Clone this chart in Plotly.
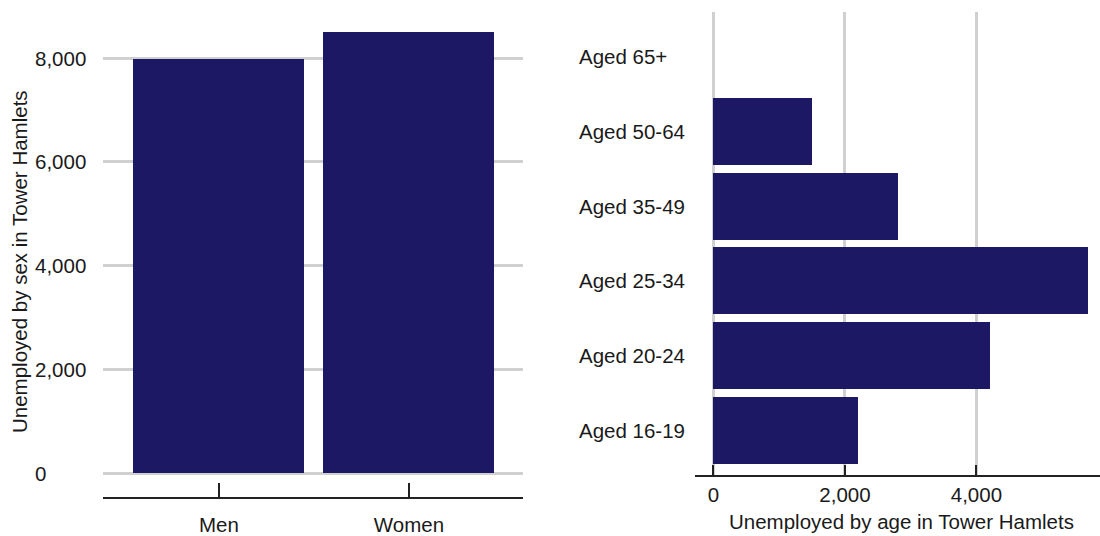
import plotly.graph_objects as go

# ---- data ----
sex_categories = ["Men", "Women"]
sex_values = [7990, 8500]
sex_ticks = [0, 2000, 4000, 6000, 8000]
sex_tick_labels = ["0", "2,000", "4,000", "6,000", "8,000"]

age_categories = ["Aged 16-19", "Aged 20-24", "Aged 25-34", "Aged 35-49", "Aged 50-64", "Aged 65+"]
age_values = [2200, 4200, 5700, 2800, 1500, 0]
age_ticks = [0, 2000, 4000]
age_tick_labels = ["0", "2,000", "4,000"]

sex_title = "Unemployed by sex in Tower Hamlets"
age_title = "Unemployed by age in Tower Hamlets"

# ---- style ----
W, H = 1100, 536
BAR = "#1c1863"
GRID = "#d0d0d0"
AXIS = "#222222"
TEXT = "#1a1a1a"
FONT = "Liberation Sans, Arial, sans-serif"
FS = 20.5

def px(x):
    return x / W

def py(y):
    return 1 - y / H

fig = go.Figure()
fig.add_trace(go.Bar(x=sex_categories, y=sex_values, width=0.9,
                     marker=dict(color=BAR, line=dict(width=0)),
                     xaxis="x", yaxis="y", showlegend=False))
fig.add_trace(go.Bar(x=age_values, y=age_categories, orientation="h", width=0.9,
                     marker=dict(color=BAR, line=dict(width=0)),
                     xaxis="x2", yaxis="y2", showlegend=False))

annotations = []
for v, lab in zip(sex_ticks, sex_tick_labels):
    annotations.append(dict(x=px(33), xref="paper", y=v, yref="y", text=lab,
                            xanchor="left", yanchor="middle", showarrow=False,
                            font=dict(family=FONT, size=FS, color=TEXT)))
for c in age_categories:
    annotations.append(dict(x=px(577), xref="paper", y=c, yref="y2", text=c,
                            xanchor="left", yanchor="middle", showarrow=False,
                            font=dict(family=FONT, size=FS, color=TEXT)))
annotations.append(dict(x=px(19), xref="paper", y=py(262), yref="paper", text=sex_title,
                        textangle=-90, xanchor="center", yanchor="middle", showarrow=False,
                        font=dict(family=FONT, size=FS, color=TEXT)))
annotations.append(dict(x=px(901), xref="paper", y=py(521), yref="paper", text=age_title,
                        xanchor="center", yanchor="middle", showarrow=False,
                        font=dict(family=FONT, size=FS, color=TEXT)))

fig.update_layout(
    width=W, height=H,
    margin=dict(l=0, r=0, t=0, b=0, pad=0),
    paper_bgcolor="white", plot_bgcolor="white",
    font=dict(family=FONT, size=FS, color=TEXT),
    bargap=0,
    xaxis=dict(domain=[px(103), px(523)], anchor="y", type="category",
               range=[-0.61, 1.6], showgrid=False, zeroline=False, automargin=False,
               showline=True, linecolor=AXIS, linewidth=2,
               ticks="inside", ticklen=14, tickwidth=2, tickcolor=AXIS,
               ticklabelstandoff=8,
               tickfont=dict(family=FONT, size=FS, color=TEXT)),
    yaxis=dict(domain=[py(497), py(27)], anchor="x", automargin=False,
               range=[-457, 8600], tickvals=sex_ticks, showticklabels=False,
               showgrid=True, gridcolor=GRID, gridwidth=3, zeroline=False,
               showline=False, ticks=""),
    xaxis2=dict(domain=[px(695), 1.0], anchor="y2", automargin=False,
                range=[-281, 5880], tickvals=age_ticks, ticktext=age_tick_labels,
                showgrid=True, gridcolor=GRID, gridwidth=3, zeroline=False,
                showline=True, linecolor=AXIS, linewidth=2,
                ticks="inside", ticklen=10, tickwidth=2, tickcolor=AXIS,
                ticklabelstandoff=0,
                tickfont=dict(family=FONT, size=FS, color=TEXT)),
    yaxis2=dict(domain=[py(475), py(12)], anchor="x2", type="category", automargin=False,
                categoryorder="array", categoryarray=age_categories,
                range=[-0.6, 5.6], showticklabels=False, showgrid=False,
                zeroline=False, showline=False, ticks=""),
    annotations=annotations,
)

fig.write_html("out.html", config={"displayModeBar": False},
               post_script="document.body.style.margin='0px';document.body.style.overflow='hidden';")
